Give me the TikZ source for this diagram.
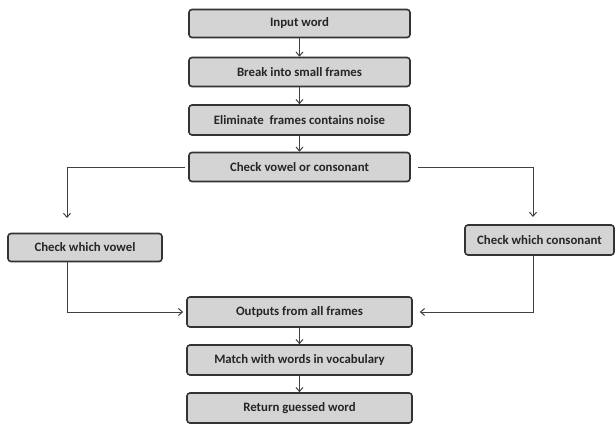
\documentclass[tikz,border=0pt]{standalone}
\usepackage{fontspec}
\setmainfont{Carlito}
\usetikzlibrary{arrows.meta}
\begin{document}
\begin{tikzpicture}[x=1pt,y=-1pt,
  box/.style={draw=black!80,line width=1.6pt,fill=black!17,rounded corners=3pt,inner sep=0pt,font=\bfseries\fontsize{12.8}{14}\selectfont,text=black!85},
  conn/.style={line width=1pt,draw=black!75,-{Straight Barb[length=4pt,width=7pt,line width=1pt]}}]
\useasboundingbox (0,0) rectangle (616,426);
\node[box,minimum width=221pt,minimum height=28pt] (b1) at (299.5,23.5) {Input word};
\node[box,minimum width=221pt,minimum height=29pt] (b2) at (299.5,72) {Break into small frames};
\node[box,minimum width=221pt,minimum height=30pt] (b3) at (299.5,120) {Eliminate\ \ frames contains noise};
\node[box,minimum width=221pt,minimum height=29pt] (b4) at (299.5,167) {Check vowel or consonant};
\node[box,minimum width=154pt,minimum height=28pt] (l) at (85,247.5) {Check which vowel};
\node[box,minimum width=149pt,minimum height=30pt] (r) at (539.5,240) {Check which consonant};
\node[box,minimum width=225pt,minimum height=30pt] (b5) at (299.5,312) {Outputs from all frames};
\node[box,minimum width=225pt,minimum height=30pt] (b6) at (299.5,360) {Match with words in vocabulary};
\node[box,minimum width=225pt,minimum height=30pt] (b7) at (299.5,408) {Return guessed word};
\coordinate (la) at (67,218);
\coordinate (ra) at (533,217);
\draw[conn] (b1) -- (b2);
\draw[conn] (b2) -- (b3);
\draw[conn] (b3) -- (b4);
\draw[conn] ([xshift=-3pt]b4.west) -| (la);
\draw[conn] ([xshift=7pt]b4.east) -| (ra);
\draw[conn] (l.south -| la) |- ([xshift=-3pt]b5.west);
\draw[conn] (r.south -| ra) |- ([xshift=7pt]b5.east);
\draw[conn] (b5) -- (b6);
\draw[conn] (b6) -- (b7);
\end{tikzpicture}
\end{document}
